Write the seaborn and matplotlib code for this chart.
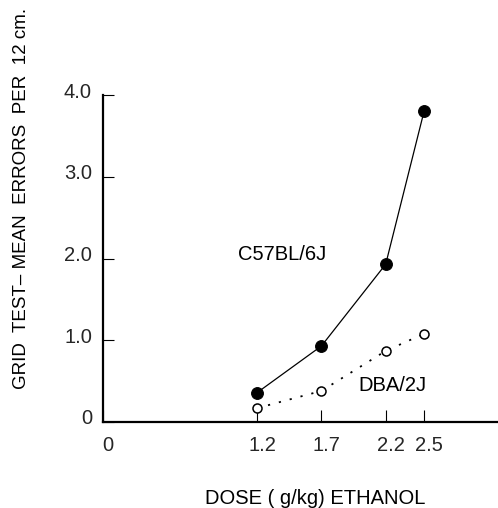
import matplotlib
matplotlib.use("Agg")
import matplotlib.pyplot as plt
from matplotlib.transforms import ScaledTranslation
import seaborn as sns
import pandas as pd

# data
doses = [1.2, 1.7, 2.2, 2.5]
c57_errors = [0.36, 0.93, 1.93, 3.81]
dba_errors = [0.17, 0.38, 0.87, 1.08]
x_ticks = [0, 1.2, 1.7, 2.2, 2.5]
x_tick_labels = ["0", "1.2", "1.7", "2.2", "2.5"]
y_ticks = [0, 1.0, 2.0, 3.0, 4.0]
y_tick_labels = ["0", "1.0", "2.0", "3.0", "4.0"]

sns.set_theme(style="white")
plt.rcParams["font.family"] = ["Liberation Sans", "DejaVu Sans"]

W, H = 498, 508
fig = plt.figure(figsize=(W / 100, H / 100), dpi=100)
x0, x1 = 103, 497
y0, y1 = 422, 95
ax = fig.add_axes([x0 / W, 1 - y0 / H, (x1 - x0) / W, (y0 - y1) / H])

df_c = pd.DataFrame({"dose": doses, "err": c57_errors})
df_d = pd.DataFrame({"dose": doses, "err": dba_errors})

sns.lineplot(data=df_c, x="dose", y="err", ax=ax, color="black", lw=0.9,
             marker="o", markersize=8.5, markerfacecolor="black",
             markeredgecolor="black", clip_on=False)
sns.lineplot(data=df_d, x="dose", y="err", ax=ax, color="black", lw=1.3,
             linestyle=(0, (1.2, 5)), marker="o", markersize=6.5,
             markerfacecolor="white", markeredgecolor="black",
             markeredgewidth=1.1, clip_on=False)

ax.set_xlim(0, (x1 - x0) / 128.5)
ax.set_ylim(0, 4.0)
ax.set_xticks(x_ticks)
ax.set_xticklabels(x_tick_labels)
ax.set_yticks(y_ticks)
ax.set_yticklabels(y_tick_labels)

for s in ["top", "right"]:
    ax.spines[s].set_visible(False)
for s in ["left", "bottom"]:
    ax.spines[s].set_color("black")
    ax.spines[s].set_linewidth(1.6)

ax.tick_params(axis="x", direction="in", length=8.5, width=0.8, color="black",
               labelsize=14.5, pad=10, bottom=True)
ax.tick_params(axis="y", direction="in", length=8, width=0.8, color="black",
               labelsize=14.5, pad=8, left=True)
for lab in ax.get_xticklabels():
    lab.set_transform(lab.get_transform() + ScaledTranslation(5 / 100, 0, fig.dpi_scale_trans))
for lab in ax.get_yticklabels():
    lab.set_transform(lab.get_transform() + ScaledTranslation(0, 5 / 100, fig.dpi_scale_trans))

ax.set_xlabel("DOSE ( g/kg) ETHANOL", fontsize=14.5, color="black")
ax.xaxis.label.set_va("center")
ax.xaxis.set_label_coords((315 - x0) / (x1 - x0), -(498 - y0) / (y0 - y1))
ax.set_ylabel("GRID  TEST– MEAN  ERRORS  PER  12 cm.", fontsize=13.5, color="black")
ax.yaxis.label.set_va("center")
ax.yaxis.set_label_coords(-(x0 - 22) / (x1 - x0), (y0 - 198) / (y0 - y1))

ax.text(1.05, 1.98, "C57BL/6J", fontsize=14.5, ha="left", va="baseline", color="black")
ax.text(1.99, 0.38, "DBA/2J", fontsize=14.5, ha="left", va="baseline", color="black")

fig.savefig("out.png", dpi=100)
